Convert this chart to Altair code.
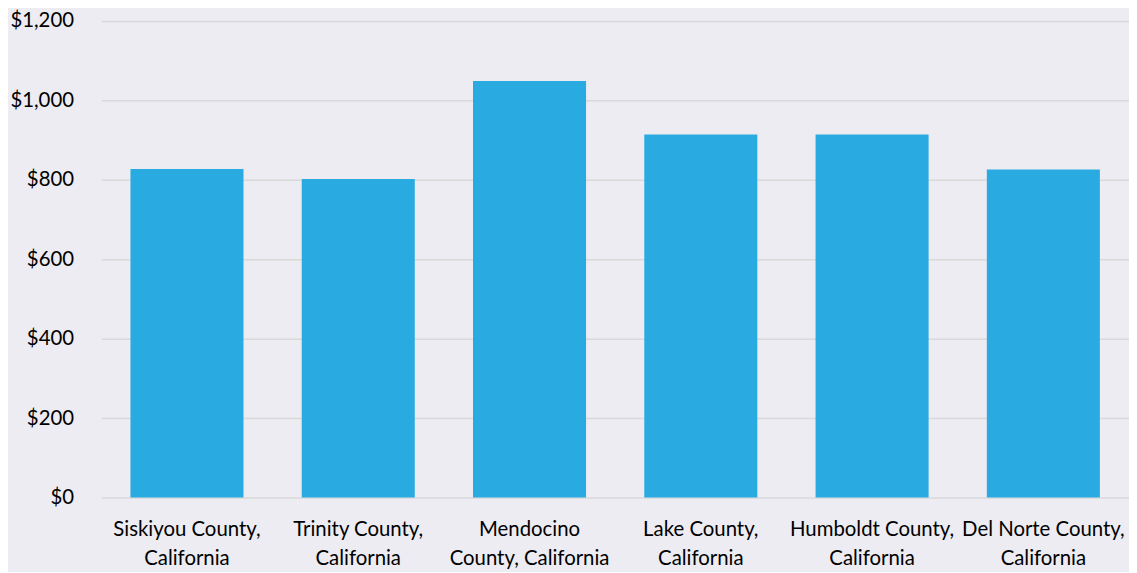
import altair as alt
import pandas as pd

counties = [
    "Siskiyou County, California",
    "Trinity County, California",
    "Mendocino County, California",
    "Lake County, California",
    "Humboldt County, California",
    "Del Norte County, California",
]
line1 = ["Siskiyou County,", "Trinity County,", "Mendocino", "Lake County,", "Humboldt County,", "Del Norte County,"]
line2 = ["California", "California", "County, California", "California", "California", "California"]
values = [827, 802, 1049, 914, 914, 826]

df = pd.DataFrame({"county": counties, "value": values})

label_map = {c: a + "|" + b for c, a, b in zip(counties, line1, line2)}
expr = "split({" + ",".join(f"'{k}':'{v}'" for k, v in label_map.items()) + "}[datum.value], '|')"

FONT = "Lato"

chart = alt.Chart(df).mark_bar(color="#29ABE2").encode(
    x=alt.X(
        "county:N",
        sort=counties,
        title=None,
        scale=alt.Scale(paddingInner=0.34, paddingOuter=0.17),
        axis=alt.Axis(
            labelAngle=0,
            labelExpr=expr,
            labelFontSize=20.5,
            labelFont=FONT,
            labelColor="#000000",
            labelLineHeight=29,
            labelPadding=22,
            ticks=False,
            domain=False,
            grid=False,
            labelLimit=300,
        ),
    ),
    y=alt.Y(
        "value:Q",
        title=None,
        scale=alt.Scale(domain=[0, 1200], nice=False),
        axis=alt.Axis(
            values=[0, 200, 400, 600, 800, 1000, 1200],
            format="$,.0f",
            labelFontSize=20.5,
            labelFont=FONT,
            labelColor="#000000",
            labelPadding=28,
            ticks=False,
            domain=False,
            gridColor="#D9D9D9",
            gridWidth=1.5,
        ),
    ),
).properties(
    width=1035,
    height=480,
    background="#EDECF2",
    padding={"left": 94, "top": 11, "right": 0, "bottom": 73},
    autosize=alt.AutoSizeParams(type="none"),
).configure_view(stroke=None, fill="#EDECF2")

chart.save("out.html", embed_options={"renderer": "svg", "actions": False})
